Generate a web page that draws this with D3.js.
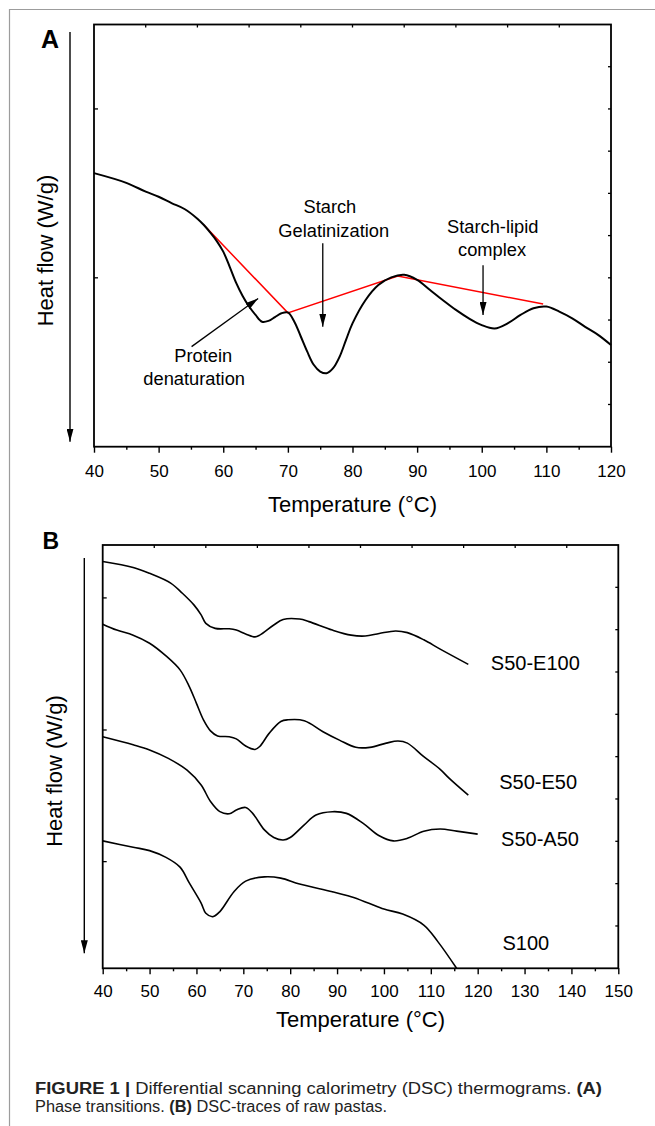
<!DOCTYPE html>
<html>
<head>
<meta charset="utf-8">
<script src="https://cdn.jsdelivr.net/npm/d3@7"></script>
<style>
  body { margin: 0; background: #fff; }
  svg { display: block; font-family: "Liberation Sans", Arial, sans-serif; }
</style>
</head>
<body>
<div id="chart"></div>
<script>
const width = 655;
const height = 1126;

// ---- Panel A: phase transitions ----
const tempA = [40, 45, 48, 50, 52, 54, 56, 57, 58, 59, 60, 61, 62, 63, 64, 65, 66, 67, 68, 69, 70,
  71, 72, 73, 74, 75, 76, 77, 78, 79, 80, 82, 84, 86, 88, 90, 92, 94, 96, 98, 100,
  102, 104, 106, 108, 110, 112, 114, 116, 118, 120];
const heatA = [6.48, 6.25, 6.04, 5.92, 5.77, 5.63, 5.40, 5.25, 5.07, 4.87, 4.62, 4.26, 3.88, 3.57, 3.32, 3.12, 2.96, 2.98, 3.07, 3.16, 3.18,
  2.96, 2.61, 2.25, 1.94, 1.78, 1.74, 1.86, 2.13, 2.53, 2.92, 3.47, 3.83, 4.01, 4.07, 3.95, 3.71, 3.47, 3.24, 3.04, 2.88,
  2.80, 2.92, 3.12, 3.28, 3.32, 3.20, 3.04, 2.84, 2.65, 2.41];

// red baseline segments
const baseTempA = [57, 70, 87, 109.5];
const baseHeatA = [5.25, 3.17, 4.04, 3.38];

// annotations (text lines and arrows), in data units
const noteText = ["Starch", "Gelatinization", "Starch-lipid", "complex", "Protein", "denaturation"];
const noteTemp = [76.5, 77.1, 101.7, 101.6, 56.9, 55.5];
const noteHeat = [5.53, 4.97, 5.05, 4.52, 2.01, 1.46];

const arrowTemp0 = [75.4, 100.2, 55.1];
const arrowHeat0 = [4.82, 4.30, 2.37];
const arrowTemp1 = [75.4, 100.2, 65.4];
const arrowHeat1 = [2.84, 3.12, 3.51];

const ticksA = [40, 50, 60, 70, 80, 90, 100, 110, 120];
const minorA = [45, 55, 65, 75, 85, 95, 105, 115];

// ---- Panel B: DSC traces of raw pastas ----
const seriesNames = ["S50-E100", "S50-E50", "S50-A50", "S100"];

const tempE100 = [40, 46.5, 50, 54.5, 57, 59.5, 61, 62, 64, 67, 68.5, 70.5, 72.5, 73.5, 76.5, 78.5, 82, 84, 89, 93, 96, 99, 102.5, 105, 108.5, 112, 118];
const heatE100 = [9.61, 9.47, 9.33, 9.10, 8.86, 8.58, 8.35, 8.15, 8.03, 8.02, 7.99, 7.90, 7.83, 7.87, 8.11, 8.24, 8.25, 8.19, 7.99, 7.87, 7.85, 7.91, 7.97, 7.93, 7.76, 7.54, 7.18];

const tempE50 = [40, 43, 46.5, 50, 53.5, 56.5, 58.5, 60, 61.5, 63, 64.5, 67, 68.5, 70.5, 72.5, 73.5, 75.5, 78, 79.5, 83, 87, 90.5, 94, 97, 100.5, 103, 105, 108.5, 112, 114, 118];
const heatE50 = [8.13, 7.99, 7.87, 7.68, 7.38, 7.05, 6.65, 6.26, 5.87, 5.61, 5.49, 5.47, 5.42, 5.25, 5.17, 5.24, 5.55, 5.83, 5.87, 5.85, 5.59, 5.39, 5.22, 5.22, 5.32, 5.37, 5.32, 5.00, 4.70, 4.48, 4.09];

const tempA50 = [40, 46.5, 50, 54, 58, 61, 63, 65, 67, 68.5, 70.5, 72, 74.5, 76.5, 78.5, 80, 83, 85.5, 89, 92, 95.5, 99, 102, 105, 108.5, 112, 115.5, 120];
const heatA50 = [5.47, 5.28, 5.16, 4.96, 4.68, 4.33, 3.94, 3.70, 3.65, 3.74, 3.80, 3.66, 3.27, 3.09, 3.03, 3.09, 3.39, 3.62, 3.70, 3.66, 3.43, 3.13, 3.01, 3.07, 3.24, 3.29, 3.24, 3.17];

const tempS100 = [40, 46.5, 50, 53.5, 56.5, 58.5, 61, 62, 63.5, 65, 68, 70.5, 74.5, 78, 82, 89, 93, 96.5, 100, 104, 108.5, 111.5, 115.5];
const heatS100 = [3.01, 2.86, 2.78, 2.62, 2.39, 2.01, 1.54, 1.30, 1.22, 1.34, 1.81, 2.06, 2.16, 2.13, 1.99, 1.81, 1.69, 1.55, 1.40, 1.28, 1.02, 0.63, 0.00];

// where each series label sits (data units)
const labelTemp = [122.8, 124.6, 125.0, 125.3];
const labelHeat = [7.05, 4.24, 2.89, 0.43];

const ticksB = [40, 50, 60, 70, 80, 90, 100, 110, 120, 130, 140, 150];
const minorB = [45, 55, 65, 75, 85, 95, 105, 115, 125, 135, 145];

const svg = d3
  .select("#chart")
  .append("svg")
  .attr("width", width)
  .attr("height", height);

svg.append("rect").attr("width", width).attr("height", height).attr("fill", "#fff");

// gray page frame (left and top edges)
svg
  .append("path")
  .attr("d", "M9.5," + height + "V9.5H" + width)
  .attr("fill", "none")
  .attr("stroke", "#9c9c9c")
  .attr("stroke-width", 1.2);

const defs = svg.append("defs");
defs
  .append("marker")
  .attr("id", "head")
  .attr("viewBox", "0 0 13 7")
  .attr("refX", 13)
  .attr("refY", 3.5)
  .attr("markerWidth", 13)
  .attr("markerHeight", 7)
  .attr("markerUnits", "userSpaceOnUse")
  .attr("orient", "auto")
  .append("path")
  .attr("d", "M0,0L13,3.5L0,7Z")
  .attr("fill", "#000");

function zip(xs, ys) {
  return xs.map((d, i) => [d, ys[i]]);
}

//draws frame, ticks, labels and axis titles of one panel, returns scales
function drawFrame(p) {
  const x = d3.scaleLinear().domain(p.xDomain).range([p.left, p.right]);
  const y = d3.scaleLinear().domain([0, 10]).range([p.bottom, p.top]);
  const g = svg.append("g");

  // bottom axis, majors with labels
  const major = g
    .append("g")
    .attr("transform", "translate(0," + p.bottom + ")")
    .call(d3.axisBottom(x).tickValues(p.ticks).tickSize(6).tickPadding(p.pad).tickFormat(d3.format("d")));
  major.select(".domain").remove();
  major.attr("font-family", null).attr("font-size", null);
  major.selectAll("line").attr("stroke-width", 1.4);
  major.selectAll("text").attr("font-size", 17).attr("fill", "#000");

  const minor = g
    .append("g")
    .attr("transform", "translate(0," + p.bottom + ")")
    .call(d3.axisBottom(x).tickValues(p.minor).tickSize(3).tickFormat(""));
  minor.select(".domain").remove();
  minor.selectAll("line").attr("stroke-width", 1.4);

  // inward ticks on top (10 divisions), right (10 divisions) and left
  const div = d3.scaleLinear().domain([0, 10]).range([p.left, p.right]);
  const inner = d3.range(1, 10);
  g.selectAll(".tt")
    .data(inner)
    .enter()
    .append("line")
    .attr("x1", (d) => div(d))
    .attr("x2", (d) => div(d))
    .attr("y1", p.top)
    .attr("y2", p.top + 3)
    .attr("stroke", "#000")
    .attr("stroke-width", 1.3);
  g.selectAll(".rt")
    .data(inner)
    .enter()
    .append("line")
    .attr("x1", p.right)
    .attr("x2", p.right - 3)
    .attr("y1", (d) => y(d))
    .attr("y2", (d) => y(d))
    .attr("stroke", "#000")
    .attr("stroke-width", 1.3);
  g.selectAll(".lt")
    .data(p.leftTicks)
    .enter()
    .append("line")
    .attr("x1", p.left)
    .attr("x2", p.left + 4)
    .attr("y1", (d) => y(d))
    .attr("y2", (d) => y(d))
    .attr("stroke", "#000")
    .attr("stroke-width", 1.3);

  g.append("rect")
    .attr("x", p.left)
    .attr("y", p.top)
    .attr("width", p.right - p.left)
    .attr("height", p.bottom - p.top)
    .attr("fill", "none")
    .attr("stroke", "#000")
    .attr("stroke-width", 1.8);

  g.append("text")
    .attr("x", (p.left + p.right) / 2)
    .attr("y", p.bottom + p.titleGap)
    .attr("text-anchor", "middle")
    .attr("font-size", 22)
    .text("Temperature (°C)");

  g.append("text")
    .attr("transform", "translate(" + p.yTitleX + "," + p.yTitleY + ") rotate(-90)")
    .attr("text-anchor", "middle")
    .attr("font-size", 22)
    .text("Heat flow (W/g)");

  // heat flow direction arrow
  g.append("line")
    .attr("x1", p.arrowX)
    .attr("x2", p.arrowX)
    .attr("y1", p.top + p.arrowTop)
    .attr("y2", p.bottom - p.arrowBottom)
    .attr("stroke", "#000")
    .attr("stroke-width", 1.4)
    .attr("marker-end", "url(#head)");

  g.append("text")
    .attr("x", p.tagX)
    .attr("y", p.tagY)
    .attr("font-size", p.tagSize)
    .attr("font-weight", "bold")
    .text(p.tag);

  return { x, y };
}

// ---------- Panel A ----------
const a = drawFrame({
  xDomain: [40, 120],
  left: 94, right: 611, top: 24.5, bottom: 446.7,
  ticks: ticksA, minor: minorA, leftTicks: [4, 8], pad: 12,
  titleGap: 65, yTitleX: 53, yTitleY: 250.5,
  arrowX: 70, arrowTop: 7.5, arrowBottom: 5,
  tag: "A", tagX: 41, tagY: 48, tagSize: 25,
});

const lineA = d3
  .line()
  .x((d) => a.x(d[0]))
  .y((d) => a.y(d[1]))
  .curve(d3.curveCatmullRom.alpha(0.5));

svg
  .append("path")
  .attr("d", d3.line().x((d) => a.x(d[0])).y((d) => a.y(d[1]))(zip(baseTempA, baseHeatA)))
  .attr("fill", "none")
  .attr("stroke", "#f00")
  .attr("stroke-width", 1.5);

svg
  .append("path")
  .attr("d", lineA(zip(tempA, heatA)))
  .attr("fill", "none")
  .attr("stroke", "#000")
  .attr("stroke-width", 2);

svg
  .selectAll(".note")
  .data(noteText)
  .enter()
  .append("text")
  .attr("x", (d, i) => a.x(noteTemp[i]))
  .attr("y", (d, i) => a.y(noteHeat[i]))
  .attr("text-anchor", "middle")
  .attr("font-size", 18.3)
  .text((d) => d);

svg
  .selectAll(".noteArrow")
  .data(arrowTemp0)
  .enter()
  .append("line")
  .attr("x1", (d, i) => a.x(arrowTemp0[i]))
  .attr("y1", (d, i) => a.y(arrowHeat0[i]))
  .attr("x2", (d, i) => a.x(arrowTemp1[i]))
  .attr("y2", (d, i) => a.y(arrowHeat1[i]))
  .attr("stroke", "#000")
  .attr("stroke-width", 1.3)
  .attr("marker-end", "url(#head)");

// ---------- Panel B ----------
const b = drawFrame({
  xDomain: [40, 150],
  left: 102.7, right: 618.3, top: 545, bottom: 968.3,
  ticks: ticksB, minor: minorB, leftTicks: [2.52, 5.63, 8.75], pad: 11,
  titleGap: 58.5, yTitleX: 61.5, yTitleY: 771,
  arrowX: 84.3, arrowTop: 13, arrowBottom: 15,
  tag: "B", tagX: 42.5, tagY: 549, tagSize: 23,
});

const lineB = d3
  .line()
  .x((d) => b.x(d[0]))
  .y((d) => b.y(d[1]))
  .curve(d3.curveCatmullRom.alpha(0.5));

const seriesB = [
  zip(tempE100, heatE100),
  zip(tempE50, heatE50),
  zip(tempA50, heatA50),
  zip(tempS100, heatS100),
];

svg
  .selectAll(".trace")
  .data(seriesB)
  .enter()
  .append("path")
  .attr("d", (d) => lineB(d))
  .attr("fill", "none")
  .attr("stroke", "#000")
  .attr("stroke-width", 1.6);

svg
  .selectAll(".seriesLabel")
  .data(seriesNames)
  .enter()
  .append("text")
  .attr("x", (d, i) => b.x(labelTemp[i]))
  .attr("y", (d, i) => b.y(labelHeat[i]))
  .attr("font-size", 20)
  .text((d) => d);

// ---------- caption ----------
const capFont = '"Liberation Sans Narrow", "Arial Narrow", "Liberation Sans", sans-serif';

const cap1 = svg
  .append("text")
  .attr("x", 35)
  .attr("y", 1094)
  .attr("font-size", 16)
  .attr("fill", "#222")
  .attr("textLength", 567)
  .attr("lengthAdjust", "spacingAndGlyphs")
  .style("font-family", capFont);
cap1.append("tspan").attr("font-weight", "bold").text("FIGURE 1 | ");
cap1.append("tspan").text("Differential scanning calorimetry (DSC) thermograms. ");
cap1.append("tspan").attr("font-weight", "bold").text("(A)");

const cap2 = svg
  .append("text")
  .attr("x", 35)
  .attr("y", 1112)
  .attr("font-size", 16)
  .attr("fill", "#222")
  .attr("textLength", 352)
  .attr("lengthAdjust", "spacingAndGlyphs")
  .style("font-family", capFont);
cap2.append("tspan").text("Phase transitions. ");
cap2.append("tspan").attr("font-weight", "bold").text("(B)");
cap2.append("tspan").text(" DSC-traces of raw pastas.");
</script>
</body>
</html>
